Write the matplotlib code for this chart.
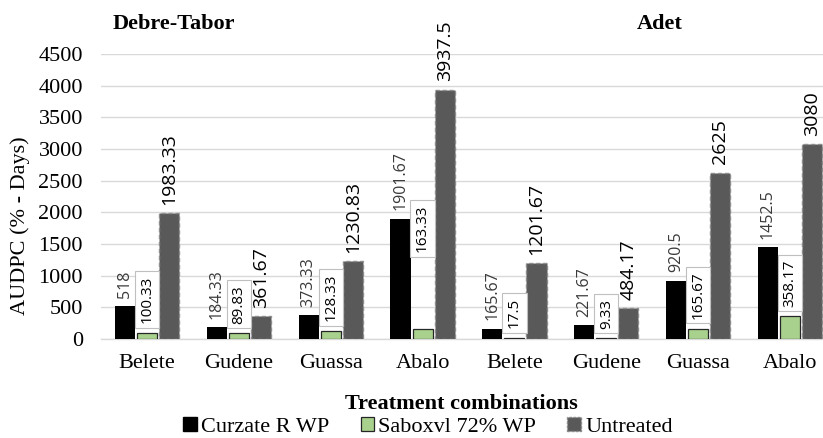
import matplotlib
matplotlib.use("Agg")
import matplotlib.pyplot as plt
import numpy as np
from matplotlib.patches import Patch

categories = ["Belete", "Gudene", "Guassa", "Abalo", "Belete", "Gudene", "Guassa", "Abalo"]
locations = ["Debre-Tabor", "Adet"]
curzate = [518, 184.33, 373.33, 1901.67, 165.67, 221.67, 920.5, 1452.5]
saboxvl = [100.33, 89.83, 128.33, 163.33, 17.5, 9.33, 165.67, 358.17]
untreated = [1983.33, 361.67, 1230.83, 3937.5, 1201.67, 484.17, 2625, 3080]
curzate_lbl = ["518", "184.33", "373.33", "1901.67", "165.67", "221.67", "920.5", "1452.5"]
saboxvl_lbl = ["100.33", "89.83", "128.33", "163.33", "17.5", "9.33", "165.67", "358.17"]
untreated_lbl = ["1983.33", "361.67", "1230.83", "3937.5", "1201.67", "484.17", "2625", "3080"]
series_names = ["Curzate R WP", "Saboxvl 72% WP", "Untreated"]
yticks = [0, 500, 1000, 1500, 2000, 2500, 3000, 3500, 4000, 4500]

W, H = 823, 438
fig = plt.figure(figsize=(W / 100, H / 100), dpi=100)
ax = fig.add_axes([101 / W, 99 / H, 735 / W, 285 / H])

serif = "Liberation Serif"
sans = "Open Sans"
x = np.arange(len(categories))
bw = 0.218
pitch = 0.24

c_black = "#000000"
c_green = "#A9D18E"
c_gray = "#595959"

ax.bar(x - pitch, curzate, bw, color=c_black, zorder=3)
ax.bar(x, saboxvl, bw, color=c_green, edgecolor="#262626", linewidth=0.9, zorder=3)
ax.bar(x + pitch, untreated, bw, color=c_gray, edgecolor="#8C8C8C",
       linewidth=1.0, linestyle=(0, (3, 2)), zorder=3)

ax.set_xlim(-0.5, len(categories) - 0.5)
ax.set_ylim(0, 4500)
ax.set_yticks(yticks)
ax.set_yticklabels([str(t) for t in yticks], fontfamily=serif, fontsize=16)
ax.set_xticks(x)
ax.set_xticklabels(categories, fontfamily=serif, fontsize=16)
ax.tick_params(axis="y", length=0, pad=13)
ax.tick_params(axis="x", length=0, pad=11)
ax.yaxis.grid(True, color="#D9D9D9", linewidth=1.0, zorder=0)
ax.set_axisbelow(True)
for s in ["top", "right", "left"]:
    ax.spines[s].set_visible(False)
ax.spines["bottom"].set_color("#D9D9D9")
ax.spines["bottom"].set_linewidth(1.0)

# data labels
for i in range(len(categories)):
    ax.annotate(curzate_lbl[i], (x[i] - pitch, curzate[i]), xytext=(0, 6),
                textcoords="offset points", rotation=90, ha="center", va="bottom",
                fontfamily=sans, fontsize=11.5, color="#3A3A3A",
                zorder=5, annotation_clip=False)
    extra = 48 if i == 3 else 0
    ax.annotate(saboxvl_lbl[i], (x[i], saboxvl[i]), xytext=(0, 7 + extra),
                textcoords="offset points", rotation=90, ha="center", va="bottom",
                fontfamily=sans, fontsize=11, color="#000000", zorder=6,
                bbox=dict(boxstyle="square,pad=0.3", fc="white", ec="#BFBFBF", lw=0.8),
                annotation_clip=False)
    ax.annotate(untreated_lbl[i], (x[i] + pitch, untreated[i]), xytext=(0, 6),
                textcoords="offset points", rotation=90, ha="center", va="bottom",
                fontfamily=sans, fontsize=14, color="#000000", zorder=5,
                annotation_clip=False)

fig.text(113 / W, 1 - 24 / H, locations[0], fontfamily=serif, fontweight="bold",
         fontsize=16, ha="left", va="center")
fig.text(637 / W, 1 - 24 / H, locations[1], fontfamily=serif, fontweight="bold",
         fontsize=16, ha="left", va="center")
fig.text(20 / W, 1 - 226 / H, "AUDPC (% - Days)", fontfamily=serif, fontsize=16,
         rotation=90, ha="center", va="center")
fig.text(461 / W, 1 - 404 / H, "Treatment combinations", fontfamily=serif,
         fontweight="bold", fontsize=16, ha="center", va="center")

handles = [Patch(facecolor=c_black, edgecolor=c_black),
           Patch(facecolor=c_green, edgecolor="#262626", linewidth=0.9),
           Patch(facecolor=c_gray, edgecolor="#8C8C8C", linestyle=(0, (2, 1)), linewidth=1.0)]
fig.legend(handles, series_names, loc="center", bbox_to_anchor=(428 / W, 1 - 427 / H),
           ncol=3, frameon=False, handlelength=0.6, handleheight=0.6,
           handletextpad=0.2, columnspacing=1.4, borderaxespad=0, borderpad=0.1,
           prop={"family": serif, "size": 16})

fig.savefig("out.png", dpi=100)
